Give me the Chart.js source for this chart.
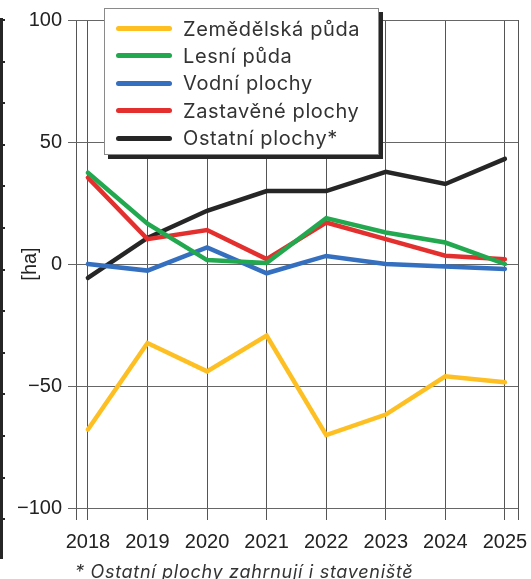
<!DOCTYPE html>
<html>
<head>
<meta charset="utf-8">
<script src="https://cdn.jsdelivr.net/npm/chart.js@4/dist/chart.umd.min.js"></script>
<style>
  html, body { margin: 0; padding: 0; background: #fff; }
  #wrap { position: relative; width: 531px; height: 579px; overflow: hidden; }
  #edge { position: absolute; left: 0; top: 18px; width: 3px; height: 541px; background: #262626; }
  #edgeTicks { position: absolute; left: 3px; top: 19px; width: 2px; height: 541px;
    background: repeating-linear-gradient(to bottom, #262626 0, #262626 2px, transparent 2px, transparent 41.6px); }
  #legend { position: absolute; left: 104px; top: 8px; width: 273px; height: 145px;
    border: 1px solid #8a8a8a; background: #fff; box-shadow: 4px 4px 0 #262626;
    font-family: Inter, "Noto Sans", sans-serif; font-size: 20px; letter-spacing: 0.6px; color: #333; }
  .row { position: absolute; left: 0; height: 27px; display: flex; align-items: center; }
  .swatch { margin-left: 11px; width: 56px; height: 5px; border-radius: 3px; }
  .label { margin-left: 11px; white-space: nowrap; }
  #note { position: absolute; left: 75px; top: 561px; font-family: Inter, "Noto Sans", sans-serif;
    font-style: italic; font-size: 18px; letter-spacing: 0.7px; color: #333; white-space: nowrap; }
</style>
</head>
<body>
<div id="wrap">
  <canvas id="chart" width="531" height="579"></canvas>
  <div id="edge"></div>
  <div id="edgeTicks"></div>
  <div id="legend"></div>
  <div id="note">* Ostatní plochy zahrnují i staveniště</div>
</div>
<script>
const years = [2018, 2019, 2020, 2021, 2022, 2023, 2024, 2025];
const zemedelska = [-67.8, -32.4, -44, -29.3, -70.1, -61.7, -46, -48.5];
const lesni = [37.4, 16.5, 1.6, 0.4, 18.8, 12.9, 8.8, 0];
const vodni = [0, -2.7, 6.8, -3.8, 3.3, 0, -1, -2];
const zastavene = [35.4, 10.2, 13.9, 2.0, 17, 10.2, 3.4, 1.9];
const ostatni = [-5.7, 10.7, 21.8, 29.9, 29.9, 37.8, 32.8, 43.1];
const yTicks = [-100, -50, 0, 50, 100];

const seriesNames = ['Zemědělská půda', 'Lesní půda', 'Vodní plochy', 'Zastavěné plochy', 'Ostatní plochy*'];
const seriesValues = [zemedelska, lesni, vodni, zastavene, ostatni];
const seriesColors = ['#fdbf22', '#22a84f', '#3470bf', '#e3302f', '#262626'];

const toPoints = vals => years.map((x, i) => ({ x: x, y: vals[i] }));

const datasets = seriesNames.map((name, i) => ({
  label: name,
  data: toPoints(seriesValues[i]),
  borderColor: seriesColors[i],
  backgroundColor: seriesColors[i],
  borderWidth: 4.5,
  borderCapStyle: 'round',
  pointRadius: 0,
  tension: 0,
}));

// legend box drawn as html
const legend = document.getElementById('legend');
seriesNames.forEach((name, i) => {
  const row = document.createElement('div');
  row.className = 'row';
  row.style.top = (6 + i * 27.4) + 'px';
  row.innerHTML = '<div class="swatch" style="background:' + seriesColors[i] + '"></div><div class="label">' + name + '</div>';
  legend.appendChild(row);
});

const xMin = 2017.8, xMax = 2025.22;
const tickFont = { family: '"Liberation Sans", Arial, sans-serif', size: 20 };

new Chart(document.getElementById('chart'), {
  type: 'line',
  data: { datasets: datasets },
  options: {
    responsive: false,
    animation: false,
    layout: { padding: { top: 20, right: 13, bottom: 0, left: 0 } },
    plugins: { legend: { display: false }, tooltip: { enabled: false } },
    scales: {
      x: {
        type: 'linear',
        min: xMin,
        max: xMax,
        afterBuildTicks: s => { s.ticks = [xMin, ...years, xMax].map(v => ({ value: v })); },
        afterFit: s => { s.height = 71; },
        ticks: {
          autoSkip: false,
          maxRotation: 0,
          padding: 10,
          color: '#222',
          font: tickFont,
          callback: v => Number.isInteger(v) ? String(v) : '',
        },
        grid: { color: '#555', lineWidth: 1, tickLength: 12 },
        border: { display: false },
      },
      y: {
        min: -100,
        max: 100,
        afterBuildTicks: s => { s.ticks = yTicks.map(v => ({ value: v })); },
        afterFit: s => { s.width = 76; },
        ticks: {
          padding: 6,
          color: '#222',
          font: tickFont,
          callback: v => String(v).replace('-', '\u2212'),
        },
        grid: { color: '#666', lineWidth: 1, tickLength: 8 },
        border: { display: false },
        title: {
          display: true,
          text: '[ha]',
          color: '#222',
          font: tickFont,
          padding: { top: 18, bottom: 0 },
        },
      },
    },
  },
});
</script>
</body>
</html>
